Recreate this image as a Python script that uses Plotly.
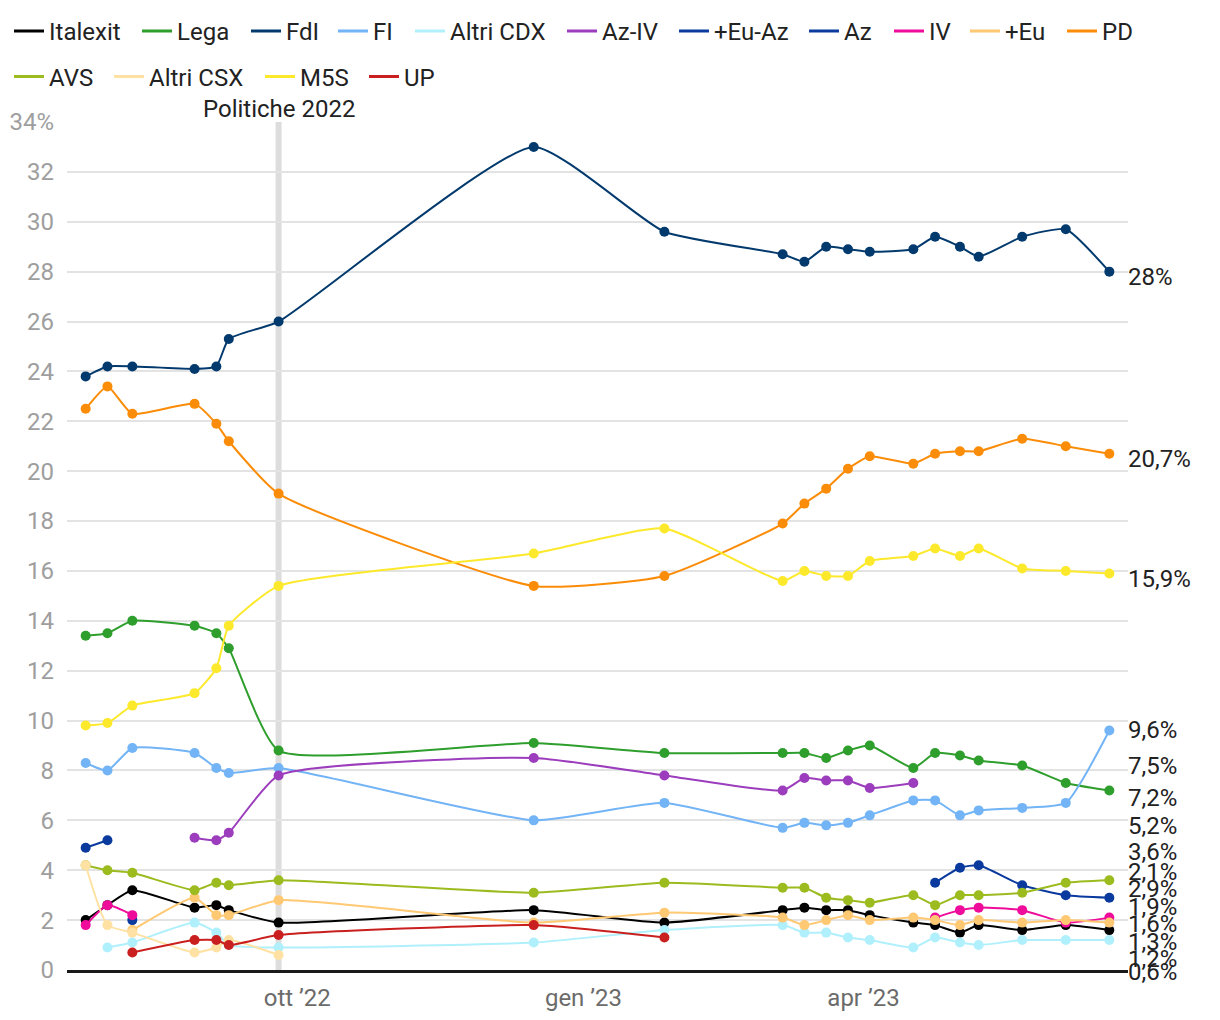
import plotly.graph_objects as go

# sondaggi (date dei rilevamenti)
dates = ["2022-07-25", "2022-08-01", "2022-08-09", "2022-08-29", "2022-09-05", "2022-09-09",
         "2022-09-25", "2022-12-16", "2023-01-27", "2023-03-06", "2023-03-13", "2023-03-20",
         "2023-03-27", "2023-04-03", "2023-04-17", "2023-04-24", "2023-05-02", "2023-05-08",
         "2023-05-22", "2023-06-05", "2023-06-19"]
N = None

italexit = [2.0, 2.6, 3.2, 2.5, 2.6, 2.4, 1.9, 2.4, 1.9, 2.4, 2.5, 2.4, 2.4, 2.2, 1.9, 1.8, 1.5, 1.8, 1.6, 1.8, 1.6]
lega = [13.4, 13.5, 14.0, 13.8, 13.5, 12.9, 8.8, 9.1, 8.7, 8.7, 8.7, 8.5, 8.8, 9.0, 8.1, 8.7, 8.6, 8.4, 8.2, 7.5, 7.2]
fdi = [23.8, 24.2, 24.2, 24.1, 24.2, 25.3, 26.0, 33.0, 29.6, 28.7, 28.4, 29.0, 28.9, 28.8, 28.9, 29.4, 29.0, 28.6, 29.4, 29.7, 28.0]
fi = [8.3, 8.0, 8.9, 8.7, 8.1, 7.9, 8.1, 6.0, 6.7, 5.7, 5.9, 5.8, 5.9, 6.2, 6.8, 6.8, 6.2, 6.4, 6.5, 6.7, 9.6]
altri_cdx = [N, 0.9, 1.1, 1.9, 1.5, 1.0, 0.9, 1.1, 1.6, 1.8, 1.5, 1.5, 1.3, 1.2, 0.9, 1.3, 1.1, 1.0, 1.2, 1.2, 1.2]
az_iv = [N, N, N, 5.3, 5.2, 5.5, 7.8, 8.5, 7.8, 7.2, 7.7, 7.6, 7.6, 7.3, 7.5, N, N, N, N, N, N]
eu_az = [4.9, 5.2, N, N, N, N, N, N, N, N, N, N, N, N, N, N, N, N, N, N, N]
az = [N, N, 2.0, N, N, N, N, N, N, N, N, N, N, N, N, 3.5, 4.1, 4.2, 3.4, 3.0, 2.9]
iv = [1.8, 2.6, 2.2, N, N, N, N, N, N, N, N, N, N, N, N, 2.1, 2.4, 2.5, 2.4, 1.9, 2.1]
piu_eu = [N, N, 1.6, 2.9, 2.2, 2.2, 2.8, 1.9, 2.3, 2.1, 1.8, 2.0, 2.2, 2.0, 2.1, 2.0, 1.8, 2.0, 1.9, 2.0, 1.9]
pd_ = [22.5, 23.4, 22.3, 22.7, 21.9, 21.2, 19.1, 15.4, 15.8, 17.9, 18.7, 19.3, 20.1, 20.6, 20.3, 20.7, 20.8, 20.8, 21.3, 21.0, 20.7]
avs = [4.2, 4.0, 3.9, 3.2, 3.5, 3.4, 3.6, 3.1, 3.5, 3.3, 3.3, 2.9, 2.8, 2.7, 3.0, 2.6, 3.0, 3.0, 3.1, 3.5, 3.6]
altri_csx = [4.2, 1.8, 1.5, 0.7, 0.9, 1.2, 0.6, N, N, N, N, N, N, N, N, N, N, N, N, N, N]
m5s = [9.8, 9.9, 10.6, 11.1, 12.1, 13.8, 15.4, 16.7, 17.7, 15.6, 16.0, 15.8, 15.8, 16.4, 16.6, 16.9, 16.6, 16.9, 16.1, 16.0, 15.9]
up = [N, N, 0.7, 1.2, 1.2, 1.0, 1.4, 1.8, 1.3, N, N, N, N, N, N, N, N, N, N, N, N]

series = [
    ("Italexit", italexit, "#000000"),
    ("Lega", lega, "#2e9e2c"),
    ("FdI", fdi, "#033a6e"),
    ("FI", fi, "#72b4f5"),
    ("Altri CDX", altri_cdx, "#b0f0fc"),
    ("Az-IV", az_iv, "#9b3dbc"),
    ("+Eu-Az", eu_az, "#0a3a9e"),
    ("Az", az, "#0a3a9e"),
    ("IV", iv, "#f00c9b"),
    ("+Eu", piu_eu, "#ffc873"),
    ("PD", pd_, "#fb8c08"),
    ("AVS", avs, "#9bbb1f"),
    ("Altri CSX", altri_csx, "#ffe2a3"),
    ("M5S", m5s, "#fde92c"),
    ("UP", up, "#c91f1f"),
]

# legenda: inizio del testo di ogni voce (px) e riga
legend_pos = {"Italexit": (50, 0), "Lega": (178, 0), "FdI": (287, 0), "FI": (374, 0),
              "Altri CDX": (451, 0), "Az-IV": (603, 0), "+Eu-Az": (715, 0), "Az": (845, 0),
              "IV": (930, 0), "+Eu": (1006, 0), "PD": (1103, 0),
              "AVS": (50, 1), "Altri CSX": (150, 1), "M5S": (301, 1), "UP": (405, 1)}
row_y = [1.1335, 1.0796]

# posizione verticale delle etichette a destra (dopo la separazione)
label_y = {"FdI": 27.95, "PD": 20.65, "M5S": 15.85, "FI": 9.8, "Az-IV": 8.35, "Lega": 7.05,
           "+Eu-Az": 5.95, "AVS": 4.9, "IV": 4.1, "Az": 3.4, "+Eu": 2.68, "Italexit": 2.0,
           "UP": 1.3, "Altri CDX": 0.6, "Altri CSX": 0.1}

FONT = "Roboto"
FS = 24
ML, MR, MT, MB = 59, 84, 114, 42
W, H = 1204, 1004
PW = W - ML - MR

fig = go.Figure()
legends = {}
for i, (name, vals, color) in enumerate(series):
    fig.add_trace(go.Scatter(
        x=dates, y=vals, name=name, mode="lines+markers", showlegend=False,
        line=dict(color=color, width=2, shape="spline", smoothing=0.5),
        marker=dict(color=color, size=10),
    ))
    # voce di legenda solo linea, una legenda per voce
    leg = "legend" if i == 0 else f"legend{i + 1}"
    tx, row = legend_pos[name]
    legends[leg] = dict(orientation="h", x=(tx - 8 - 41 - ML) / PW, xanchor="left",
                        y=row_y[row], yanchor="top", bgcolor="rgba(0,0,0,0)",
                        font=dict(size=FS, color="#222"), itemclick=False)
    fig.add_trace(go.Scatter(
        x=[None], y=[None], name=name, mode="lines",
        line=dict(color=color, width=3), legend=leg,
    ))
    last = [v for v in vals if v is not None][-1]
    fig.add_annotation(
        x=1.0, xref="paper", y=label_y[name], yref="y", xanchor="left", yanchor="middle",
        text=f"{last:g}%".replace(".", ","), showarrow=False, xshift=-2, yshift=-4,
        font=dict(family=FONT, size=FS, color="#222"),
    )

# elezioni politiche
fig.add_shape(type="line", x0="2022-09-25", x1="2022-09-25", y0=0, y1=34, yref="y",
              line=dict(color="#dddddd", width=6), layer="below")
fig.add_annotation(x="2022-09-25", y=34, yref="y", text="Politiche 2022", showarrow=False,
                   yanchor="bottom", yshift=-3, font=dict(family=FONT, size=FS, color="#222"))

fig.update_layout(
    width=W, height=H,
    margin=dict(l=ML, r=MR, t=MT, b=MB, autoexpand=False),
    paper_bgcolor="white", plot_bgcolor="white",
    font=dict(family=FONT, size=FS, color="#222"),
    xaxis=dict(type="date", range=["2022-07-19", "2023-06-25"], showgrid=False,
               tickvals=["2022-10-01", "2023-01-01", "2023-04-01"],
               ticktext=["ott ’22", "gen ’23", "apr ’23"],
               tickfont=dict(color="#6b6b6b", size=FS), ticks="", ticklabelstandoff=4,
               showline=True, linecolor="#1a1a1a", linewidth=3, zeroline=False),
    yaxis=dict(range=[0, 34], tickvals=list(range(0, 35, 2)),
               ticktext=[str(v) for v in range(0, 34, 2)] + ["34%"],
               tickfont=dict(color="#9e9e9e", size=FS), ticks="", ticklabelstandoff=12,
               showgrid=True, gridcolor="#e3e3e3", gridwidth=2, zeroline=False),
    **legends,
)

fig.write_html("out.html")
